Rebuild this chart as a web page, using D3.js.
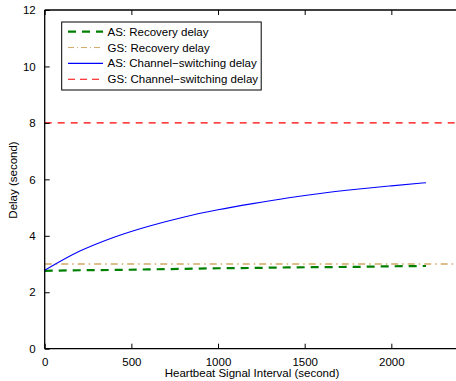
<!DOCTYPE html>
<html>
<head>
<meta charset="utf-8">
<script src="https://cdn.jsdelivr.net/npm/d3@7"></script>
<style>
  body { margin: 0; background: #fff; }
  text { font-family: "Liberation Sans", Arial, sans-serif; }
</style>
</head>
<body>
<div id="chart"></div>
<script>
// heartbeat interval (s)
const intervals = [0, 200, 400, 600, 800, 1000, 1200, 1400, 1600, 1800, 2000, 2200];
const asRecovery = [2.76, 2.78, 2.79, 2.81, 2.83, 2.85, 2.86, 2.88, 2.89, 2.90, 2.92, 2.93];
const asSwitching = [2.78, 3.45, 3.95, 4.34, 4.66, 4.92, 5.14, 5.34, 5.51, 5.65, 5.77, 5.88];
const gsRecovery = 3;
const gsSwitching = 8;
const xTicks = [0, 500, 1000, 1500, 2000];
const yTicks = [0, 2, 4, 6, 8, 10, 12];

const width = 456, height = 381;
const margin = { left: 44.7, top: 10, bottom: 32.3 };
const plotRight = 478; // axis box runs past the crop

const svg = d3.select("#chart").append("svg")
  .attr("width", width)
  .attr("height", height);

const x = d3.scaleLinear().domain([0, 2500]).range([margin.left, plotRight]);
const y = d3.scaleLinear().domain([0, 12]).range([height - margin.bottom, margin.top]);

// lines
const line = d3.line().x(d => x(d[0])).y(d => y(d[1]));

svg.append("path")
  .datum([[0, gsSwitching], [2500, gsSwitching]])
  .attr("d", line)
  .attr("fill", "none").attr("stroke", "#ff0000").attr("stroke-width", 1.2)
  .attr("stroke-dasharray", "7,6");

svg.append("path")
  .datum([[0, gsRecovery], [2500, gsRecovery]])
  .attr("d", line)
  .attr("fill", "none").attr("stroke", "#d2a864").attr("stroke-width", 1.5)
  .attr("stroke-dasharray", "7,4,1.5,4");

svg.append("path")
  .datum(intervals.map((t, i) => [t, asRecovery[i]]))
  .attr("d", line.curve(d3.curveMonotoneX))
  .attr("fill", "none").attr("stroke", "#008000").attr("stroke-width", 2.2)
  .attr("stroke-dasharray", "8,6");

svg.append("path")
  .datum(intervals.map((t, i) => [t, asSwitching[i]]))
  .attr("d", line.curve(d3.curveMonotoneX))
  .attr("fill", "none").attr("stroke", "#0000ff").attr("stroke-width", 1.1);

// axes (matlab style: ticks point inward)
const xAxis = svg.append("g")
  .attr("transform", `translate(0,${y(0)})`)
  .call(d3.axisBottom(x).tickValues(xTicks).tickFormat(d3.format("d"))
    .tickSizeInner(-5).tickSizeOuter(0).tickPadding(9));
const yAxis = svg.append("g")
  .attr("transform", `translate(${x(0)},0)`)
  .call(d3.axisLeft(y).tickValues(yTicks).tickSizeInner(-5).tickSizeOuter(0).tickPadding(9));
const xTop = svg.append("g")
  .attr("transform", `translate(0,${y(12)})`)
  .call(d3.axisTop(x).tickValues(xTicks).tickSizeInner(-5).tickSizeOuter(0).tickFormat(""));

[xAxis, yAxis, xTop].forEach(g => {
  g.select(".domain").attr("stroke", "#000").attr("stroke-width", 1.3);
  g.selectAll(".tick line").attr("stroke", "#000");
  g.selectAll(".tick text").attr("font-size", 11.5).attr("fill", "#000")
    .style("font-family", "'Liberation Sans', Arial, sans-serif");
});
xAxis.select(".domain").attr("d", `M${x(0)},0H${plotRight}`);
yAxis.select(".domain").attr("d", `M0,${y(0)}V${y(12)}`);
xTop.select(".domain").attr("d", `M${x(0)},0H${plotRight}`);

// axis labels
svg.append("text")
  .attr("x", 252).attr("y", 377)
  .attr("text-anchor", "middle").attr("font-size", 11.5)
  .text("Heartbeat Signal Interval (second)");
svg.append("text")
  .attr("transform", "translate(17,180) rotate(-90)")
  .attr("text-anchor", "middle").attr("font-size", 11.5)
  .text("Delay (second)");

// legend
const legendItems = [
  { label: "AS: Recovery delay", color: "#008000", width: 2.2, dash: "8,6" },
  { label: "GS: Recovery delay", color: "#d2a864", width: 1, dash: "6,3,1,3" },
  { label: "AS: Channel\u2212switching delay", color: "#0000ff", width: 1.1, dash: null },
  { label: "GS: Channel\u2212switching delay", color: "#ff0000", width: 1.2, dash: "7,5" }
];
const legend = svg.append("g");
legend.append("rect")
  .attr("x", 61.7).attr("y", 22).attr("width", 199.5).attr("height", 68)
  .attr("fill", "#fff").attr("stroke", "#000").attr("stroke-width", 1);
legendItems.forEach((d, i) => {
  const ly = 31.7 + i * 15.85;
  legend.append("line")
    .attr("x1", 68).attr("x2", 103).attr("y1", ly).attr("y2", ly)
    .attr("stroke", d.color).attr("stroke-width", d.width)
    .attr("stroke-dasharray", d.dash);
  legend.append("text")
    .attr("x", 107.5).attr("y", ly + 4)
    .attr("font-size", 11.5)
    .text(d.label);
});
</script>
</body>
</html>
